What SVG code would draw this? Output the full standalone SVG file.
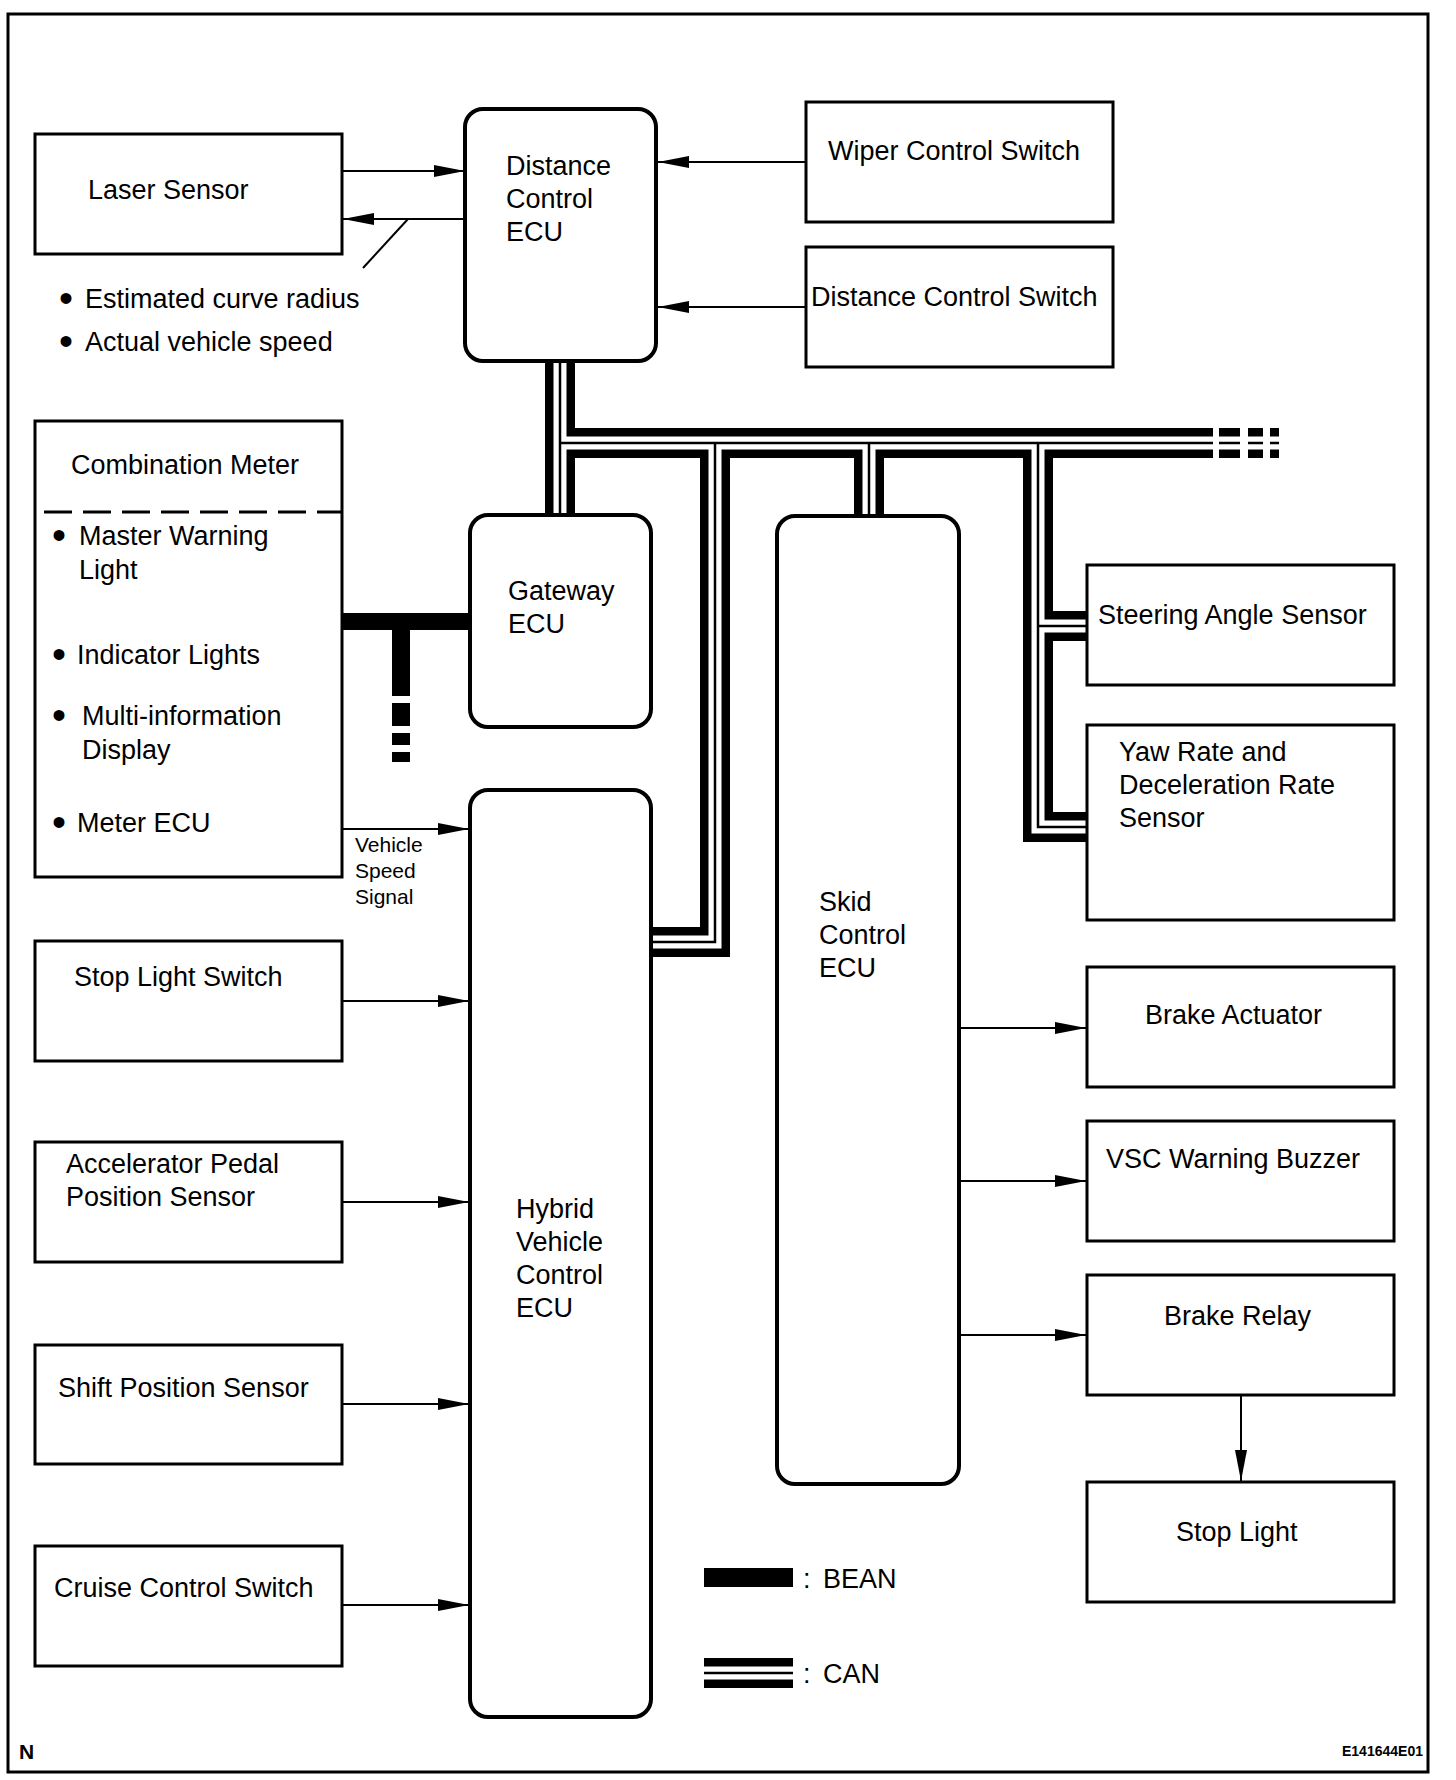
<svg xmlns="http://www.w3.org/2000/svg" width="1456" height="1780" viewBox="0 0 1456 1780">
<defs>
<style>
text{font-family:"Liberation Sans",Arial,sans-serif;font-size:27px;fill:#000}
.sm{font-size:21px}
.bl{font-size:40px}
.n{font-weight:bold;font-size:21px}
.code{font-weight:bold;font-size:14px}
.box{fill:#fff;stroke:#000;stroke-width:3}
.ecu{fill:#fff;stroke:#000;stroke-width:4}
.ln{fill:none;stroke:#000;stroke-width:2}
.arr{fill:none;stroke:#000;stroke-width:2;marker-end:url(#ah)}
.c1{fill:none;stroke:#000;stroke-width:30;stroke-linecap:butt;stroke-linejoin:miter}
.c2{fill:none;stroke:#fff;stroke-width:13;stroke-linecap:butt;stroke-linejoin:miter}
.c3{fill:none;stroke:#000;stroke-width:2.5;stroke-linecap:butt;stroke-linejoin:miter}
</style>
<marker id="ah" markerUnits="userSpaceOnUse" markerWidth="32" markerHeight="14" refX="31" refY="6.5" orient="auto">
<path d="M0,0.5 L31,6.5 L0,12.5 Z" fill="#000"/>
</marker>
</defs>
<rect width="1456" height="1780" fill="#fff"/>
<rect x="8" y="14" width="1420" height="1758" fill="none" stroke="#000" stroke-width="3"/>

<g id="connectors">
<g id="can-bus">
<path class="c1" d="M560,361 V515 M560,443 H1213 M715,443 V942 H651 M869,443 V516 M1038,443 V827 H1087 M1038,626 H1087 M1219,443 H1240 M1248,443 H1263 M1270,443 H1279"/>
<path class="c2" d="M560,361 V515 M560,443 H1213 M715,443 V942 H651 M869,443 V516 M1038,443 V827 H1087 M1038,626 H1087 M1219,443 H1240 M1248,443 H1263 M1270,443 H1279"/>
<path class="c3" d="M560,361 V515 M560,443 H1213 M715,443 V942 H651 M869,443 V516 M1038,443 V827 H1087 M1038,626 H1087 M1219,443 H1240 M1248,443 H1263 M1270,443 H1279"/>
</g>
<g id="bean-bus">
<path d="M342,621.5 H470" stroke="#000" stroke-width="17" fill="none"/>
<path d="M401,621 V696" stroke="#000" stroke-width="18" fill="none"/>
<rect x="392" y="703" width="18" height="23" fill="#000"/>
<rect x="392" y="733" width="18" height="12" fill="#000"/>
<rect x="392" y="752" width="18" height="10" fill="#000"/>
</g>
<path class="arr" d="M342,171 H465"/>
<path class="arr" d="M465,219 H343"/>
<path class="ln" d="M408,219 L363,268"/>
<path class="arr" d="M806,162 H658"/>
<path class="arr" d="M806,307 H658"/>
<path class="arr" d="M342,829 H469"/>
<path class="arr" d="M342,1001 H469"/>
<path class="arr" d="M342,1202 H469"/>
<path class="arr" d="M342,1404 H469"/>
<path class="arr" d="M342,1605 H469"/>
<path class="arr" d="M959,1028 H1086"/>
<path class="arr" d="M959,1181 H1086"/>
<path class="arr" d="M959,1335 H1086"/>
<path class="arr" d="M1241,1395 V1481"/>
</g>

<g id="laser-sensor">
<rect class="box" x="35" y="134" width="307" height="120"/>
<text x="88" y="199">Laser Sensor</text>
</g>
<g id="laser-signals">
<text x="59" y="312"><tspan class="bl">•</tspan><tspan x="85" y="308">Estimated curve radius</tspan></text>
<text x="59" y="355"><tspan class="bl">•</tspan><tspan x="85" y="351">Actual vehicle speed</tspan></text>
</g>
<g id="distance-control-ecu">
<rect class="ecu" x="465" y="109" width="191" height="252" rx="18"/>
<text x="506" y="175">Distance</text>
<text x="506" y="208">Control</text>
<text x="506" y="241">ECU</text>
</g>
<g id="wiper-control-switch">
<rect class="box" x="806" y="102" width="307" height="120"/>
<text x="828" y="160">Wiper Control Switch</text>
</g>
<g id="distance-control-switch">
<rect class="box" x="806" y="247" width="307" height="120"/>
<text x="811" y="306">Distance Control Switch</text>
</g>
<g id="combination-meter">
<rect class="box" x="35" y="421" width="307" height="456"/>
<text x="71" y="474">Combination Meter</text>
<path d="M44,512 H342" stroke="#000" stroke-width="3" stroke-dasharray="28 11" fill="none"/>
<text x="52" y="549"><tspan class="bl">•</tspan><tspan x="79" y="545">Master Warning</tspan></text>
<text x="79" y="579">Light</text>
<text x="52" y="668"><tspan class="bl">•</tspan><tspan x="77" y="664">Indicator Lights</tspan></text>
<text x="52" y="729"><tspan class="bl">•</tspan><tspan x="82" y="725">Multi-information</tspan></text>
<text x="82" y="759">Display</text>
<text x="52" y="836"><tspan class="bl">•</tspan><tspan x="77" y="832">Meter ECU</tspan></text>
</g>
<g id="vehicle-speed-signal">
<text class="sm" x="355" y="852">Vehicle</text>
<text class="sm" x="355" y="878">Speed</text>
<text class="sm" x="355" y="904">Signal</text>
</g>
<g id="gateway-ecu">
<rect class="ecu" x="470" y="515" width="181" height="212" rx="18"/>
<text x="508" y="600">Gateway</text>
<text x="508" y="633">ECU</text>
</g>
<g id="hybrid-vehicle-control-ecu">
<rect class="ecu" x="470" y="790" width="181" height="927" rx="18"/>
<text x="516" y="1218">Hybrid</text>
<text x="516" y="1251">Vehicle</text>
<text x="516" y="1284">Control</text>
<text x="516" y="1317">ECU</text>
</g>
<g id="skid-control-ecu">
<rect class="ecu" x="777" y="516" width="182" height="968" rx="18"/>
<text x="819" y="911">Skid</text>
<text x="819" y="944">Control</text>
<text x="819" y="977">ECU</text>
</g>
<g id="steering-angle-sensor">
<rect class="box" x="1087" y="565" width="307" height="120"/>
<text x="1098" y="624">Steering Angle Sensor</text>
</g>
<g id="yaw-rate-sensor">
<rect class="box" x="1087" y="725" width="307" height="195"/>
<text x="1119" y="761">Yaw Rate and</text>
<text x="1119" y="794">Deceleration Rate</text>
<text x="1119" y="827">Sensor</text>
</g>
<g id="stop-light-switch">
<rect class="box" x="35" y="941" width="307" height="120"/>
<text x="74" y="986">Stop Light Switch</text>
</g>
<g id="accelerator-pedal-position-sensor">
<rect class="box" x="35" y="1142" width="307" height="120"/>
<text x="66" y="1173">Accelerator Pedal</text>
<text x="66" y="1206">Position Sensor</text>
</g>
<g id="shift-position-sensor">
<rect class="box" x="35" y="1345" width="307" height="119"/>
<text x="58" y="1397">Shift Position Sensor</text>
</g>
<g id="cruise-control-switch">
<rect class="box" x="35" y="1546" width="307" height="120"/>
<text x="54" y="1597">Cruise Control Switch</text>
</g>
<g id="brake-actuator">
<rect class="box" x="1087" y="967" width="307" height="120"/>
<text x="1145" y="1024">Brake Actuator</text>
</g>
<g id="vsc-warning-buzzer">
<rect class="box" x="1087" y="1121" width="307" height="120"/>
<text x="1106" y="1168">VSC Warning Buzzer</text>
</g>
<g id="brake-relay">
<rect class="box" x="1087" y="1275" width="307" height="120"/>
<text x="1164" y="1325">Brake Relay</text>
</g>
<g id="stop-light">
<rect class="box" x="1087" y="1482" width="307" height="120"/>
<text x="1176" y="1541">Stop Light</text>
</g>
<g id="legend">
<rect x="704" y="1568" width="89" height="19" fill="#000"/>
<text x="803" y="1588">:</text>
<text x="823" y="1588">BEAN</text>
<path class="c1" d="M704,1673 H793"/>
<path class="c2" d="M704,1673 H793"/>
<path class="c3" d="M704,1673 H793"/>
<text x="803" y="1683">:</text>
<text x="823" y="1683">CAN</text>
</g>
<text class="n" x="19" y="1759">N</text>
<text class="code" x="1342" y="1756">E141644E01</text>
</svg>
